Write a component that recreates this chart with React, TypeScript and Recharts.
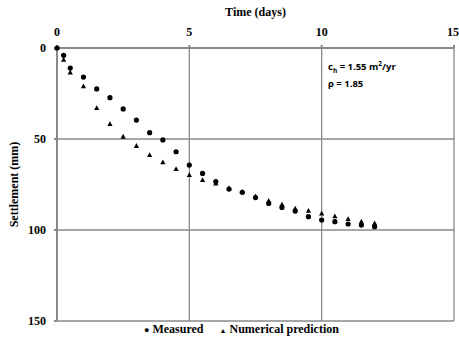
import { ScatterChart, Scatter, XAxis, YAxis, CartesianGrid, Legend, Label } from "recharts";

const measuredDays = [0, 0.25, 0.5, 1, 1.5, 2, 2.5, 3, 3.5, 4, 4.5, 5, 5.5, 6, 6.5, 7, 7.5, 8, 8.5, 9, 9.5, 10, 10.5, 11, 11.5, 12];
const measuredSettlement = [0, 4, 11, 16, 22.5, 27.3, 33.5, 39.6, 46.5, 50.5, 57, 64.3, 68.9, 73.4, 77.5, 79.3, 82.2, 85.4, 87.6, 89.6, 92.7, 94.5, 95.4, 96.7, 97.3, 98.2];

const predictedDays = [0, 0.25, 0.5, 1, 1.5, 2, 2.5, 3, 3.5, 4, 4.5, 5, 5.5, 6, 6.5, 7, 7.5, 8, 8.5, 9, 9.5, 10, 10.5, 11, 11.5, 12];
const predictedSettlement = [0, 6.5, 13.4, 21, 33, 41.8, 48.7, 53.8, 58.8, 62.8, 66.5, 69.8, 72.5, 74.4, 77, 79, 81.5, 84, 86, 88.2, 89.4, 91, 92.5, 94, 95.4, 96.3];

const xTicks = [0, 5, 10, 15];
const yTicks = [0, 50, 100, 150];

const measured = measuredDays.map((t, i) => ({ t, s: measuredSettlement[i] }));
const predicted = predictedDays.map((t, i) => ({ t, s: predictedSettlement[i] }));

const serif = "Liberation Serif, Times New Roman, serif";
const gridColor = "#8a8a8a";

const Dot = (props: any) => <circle cx={props.cx} cy={props.cy} r={2.6} fill="#000" />;
const Tri = (props: any) => {
  const { cx, cy } = props;
  return <polygon points={`${cx},${cy - 2.8} ${cx - 2.6},${cy + 2} ${cx + 2.6},${cy + 2}`} fill="#000" />;
};

const LegendContent = () => (
  <div style={{ fontFamily: serif, fontWeight: "bold", fontSize: 12, color: "#000", whiteSpace: "nowrap" }}>
    <span style={{ fontSize: 9 }}>●</span> Measured
    <span style={{ display: "inline-block", width: 16 }} />
    <span style={{ fontSize: 7 }}>▲</span> Numerical prediction
  </div>
);

export default function App() {
  const tickStyle = { fontSize: 12, fontFamily: serif, fontWeight: "bold", fill: "#000" };
  const labelStyle = { fontFamily: serif, fontWeight: "bold", fontSize: 12, fill: "#000" };
  return (
    <div style={{ position: "absolute", left: 0, top: 0, width: 459, height: 345, background: "#fff" }}>
      <ScatterChart width={459} height={345} margin={{ top: 0, right: 5, bottom: 24, left: 0 }}>
        <CartesianGrid stroke={gridColor} strokeWidth={1.3} horizontalValues={yTicks} verticalValues={xTicks} />
        <XAxis
          type="number"
          dataKey="t"
          orientation="top"
          domain={[0, 15]}
          ticks={xTicks}
          height={48}
          tick={tickStyle}
          tickSize={3}
          tickMargin={9}
          stroke={gridColor}
          strokeWidth={2}
        >
          <Label value="Time (days)" position="insideTop" offset={7} style={labelStyle} />
        </XAxis>
        <YAxis
          type="number"
          dataKey="s"
          domain={[0, 150]}
          reversed
          ticks={yTicks}
          width={57}
          tick={tickStyle}
          tickSize={3}
          tickMargin={8}
          stroke={gridColor}
          strokeWidth={2}
        >
          <Label value="Settlement (mm)" angle={-90} position="insideLeft" offset={14} style={{ ...labelStyle, textAnchor: "middle" }} />
        </YAxis>
        <Legend verticalAlign="middle" layout="horizontal" align="center" wrapperStyle={{ left: 144, top: 322, width: 260 }} content={<LegendContent />} />
        <Scatter name="Measured" data={measured} shape={<Dot />} isAnimationActive={false} />
        <Scatter name="Numerical prediction" data={predicted} shape={<Tri />} isAnimationActive={false} />
      </ScatterChart>
      <div style={{ position: "absolute", left: 328, top: 57, fontFamily: "'Open Sans', sans-serif", fontWeight: "bold", fontSize: 9.5, lineHeight: "13px", color: "#000" }}>
        <div>c<sub style={{ fontSize: 6.5 }}>h</sub> = 1.55 m<sup style={{ fontSize: 6.5 }}>2</sup>/yr</div>
        <div>ρ = 1.85</div>
      </div>
    </div>
  );
}
